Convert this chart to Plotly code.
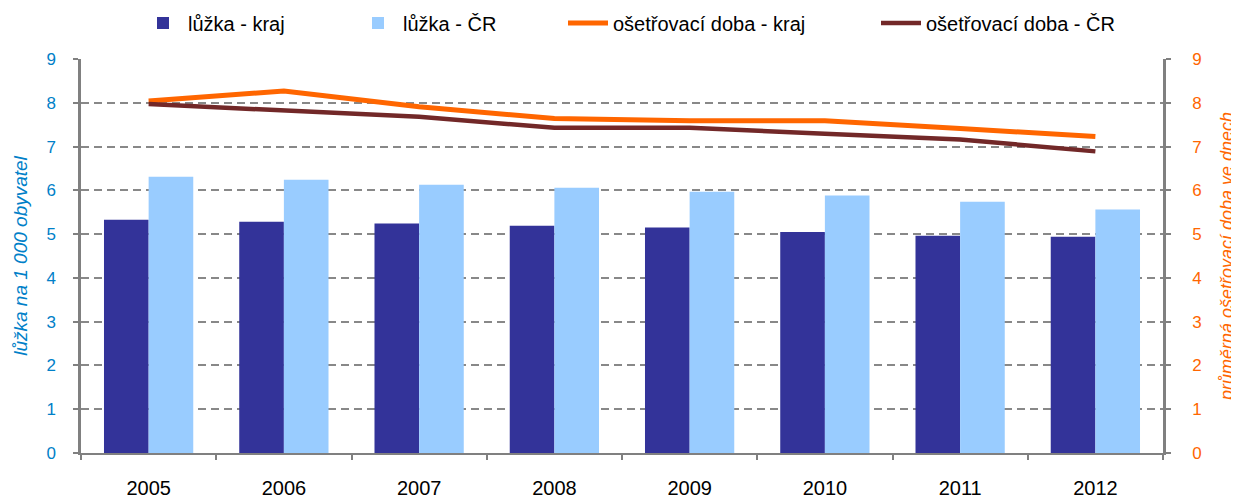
import plotly.graph_objects as go

years = ["2005", "2006", "2007", "2008", "2009", "2010", "2011", "2012"]
luzka_kraj = [5.33, 5.28, 5.24, 5.19, 5.15, 5.05, 4.96, 4.94]
luzka_cr = [6.31, 6.24, 6.13, 6.06, 5.97, 5.88, 5.74, 5.56]
doba_kraj = [8.04, 8.27, 7.91, 7.64, 7.59, 7.59, 7.41, 7.23]
doba_cr = [7.97, 7.82, 7.68, 7.43, 7.43, 7.29, 7.16, 6.89]
series_names = ["lůžka - kraj", "lůžka - ČR", "ošetřovací doba - kraj", "ošetřovací doba - ČR"]

W, H = 1239, 497
font_family = "Liberation Sans, Arial, sans-serif"
blue_txt = "#0080C8"
orange = "#FF6600"
grid_col = "#888888"

fig = go.Figure()
fig.add_trace(go.Bar(x=years, y=luzka_kraj, name=series_names[0], marker_color="#333399",
                     marker_line_width=0, legend="legend"))
fig.add_trace(go.Bar(x=years, y=luzka_cr, name=series_names[1], marker_color="#99CCFF",
                     marker_line_width=0, legend="legend2"))
fig.add_trace(go.Scatter(x=years, y=doba_kraj, name=series_names[2], mode="lines",
                         line=dict(color=orange, width=5), yaxis="y2", legend="legend3"))
fig.add_trace(go.Scatter(x=years, y=doba_cr, name=series_names[3], mode="lines",
                         line=dict(color="#722828", width=4.5), yaxis="y2", legend="legend4"))

legend_y = 1 - 15 / H


def leg(xpx):
    return dict(orientation="h", x=xpx / W, xref="container", xanchor="left",
                y=legend_y, yref="container", yanchor="middle",
                font=dict(size=20, color="black"), itemwidth=40,
                bgcolor="rgba(0,0,0,0)", borderwidth=0)


fig.update_layout(
    width=W, height=H,
    margin=dict(l=73, r=84, t=51, b=52, autoexpand=False),
    paper_bgcolor="white", plot_bgcolor="white",
    font=dict(family=font_family, size=16, color="black"),
    barmode="group", bargap=0.34, bargroupgap=0,
    showlegend=True,
    legend=leg(130), legend2=leg(345), legend3=leg(555), legend4=leg(868),
    xaxis=dict(showline=True, linecolor="#808080", linewidth=2, ticks="outside",
               tickson="boundaries", ticklen=5, tickcolor="#808080", tickwidth=2,
               showgrid=False, tickfont=dict(size=20, color="black"),
               ticklabelstandoff=16, automargin=False),
    yaxis=dict(range=[0, 9], dtick=1, showline=True, linecolor="#808080", linewidth=2.5,
               ticks="outside", ticklen=5, tickcolor="#808080", tickwidth=2,
               showgrid=True, gridcolor=grid_col, gridwidth=2, griddash="8px,5px",
               zeroline=False, tickfont=dict(size=17, color=blue_txt),
               ticklabelstandoff=14, automargin=False,
               title=dict(text="lůžka na 1 000 obyvatel", standoff=14,
                          font=dict(size=19, color=blue_txt, style="italic"))),
    yaxis2=dict(range=[0, 9], dtick=1, overlaying="y", side="right", showline=True,
                linecolor="#808080", linewidth=2.5, ticks="outside", ticklen=5,
                tickcolor="#808080", tickwidth=2, showgrid=False, zeroline=False,
                tickfont=dict(size=17, color=orange), ticklabelstandoff=18,
                automargin=False,
                title=dict(text="průměrná ošetřovací doba ve dnech", standoff=20,
                           font=dict(size=18, color=orange, style="italic"))),
)

fig.write_html("out.html")
